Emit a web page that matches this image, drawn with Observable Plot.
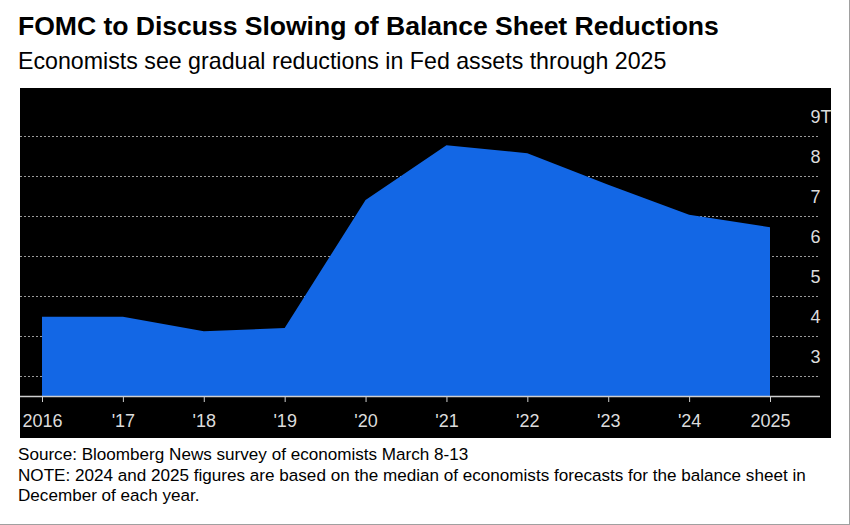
<!DOCTYPE html>
<html>
<head>
<meta charset="utf-8">
<script src="https://cdn.jsdelivr.net/npm/d3@7"></script>
<script src="https://cdn.jsdelivr.net/npm/@observablehq/plot@0.6"></script>
<style>
  html, body { margin: 0; padding: 0; background: #fff; }
  #page { position: relative; width: 850px; height: 525px; box-sizing: border-box; border: 1px solid #a0a0a0; border-top: none; border-left: none; overflow: hidden; font-family: "Liberation Sans", Arial, sans-serif; }
  #title { position: absolute; left: 18px; top: 11px; font-size: 26.6px; font-weight: bold; color: #000; letter-spacing: -0.05px; white-space: nowrap; }
  #subtitle { position: absolute; left: 18px; top: 48px; font-size: 23.2px; color: #000; white-space: nowrap; }
  #chart { position: absolute; left: 20px; top: 88px; }
  #chart svg { overflow: visible; }
  #caption { position: absolute; left: 18px; top: 445px; font-size: 17.1px; line-height: 20.5px; color: #000; white-space: nowrap; }
</style>
</head>
<body>
<div id="page">
  <div id="title">FOMC to Discuss Slowing of Balance Sheet Reductions</div>
  <div id="subtitle">Economists see gradual reductions in Fed assets through 2025</div>
  <div id="chart"></div>
  <div id="caption">Source: Bloomberg News survey of economists March 8-13<br>NOTE: 2024 and 2025 figures are based on the median of economists forecasts for the balance sheet in<br>December of each year.</div>
</div>
<script>
// Fed balance sheet (trillions of dollars)
const years = [2016, 2017, 2018, 2019, 2020, 2021, 2022, 2023, 2024, 2025];
const values = [4.48, 4.48, 4.12, 4.20, 7.40, 8.77, 8.57, 7.78, 7.03, 6.72];
const xTickLabels = ["2016", "'17", "'18", "'19", "'20", "'21", "'22", "'23", "'24", "2025"];
const yTicks = [3, 4, 5, 6, 7, 8, 9];
const yTickLabels = ["3", "4", "5", "6", "7", "8", "9T"];
const baseline = 2.5;
const yMax = 9;

const data = years.map((year, i) => ({year, value: values[i]}));
const xLabel = new Map(years.map((y, i) => [y, xTickLabels[i]]));
const yLabel = new Map(yTicks.map((t, i) => [t, yTickLabels[i]]));

const chart = Plot.plot({
  width: 811,
  height: 350,
  marginLeft: 0,
  marginRight: 11,
  marginTop: 48,
  marginBottom: 42,
  style: {background: "#000", color: "#dcdcdc", fontFamily: "'Liberation Sans', Arial, sans-serif", fontSize: "18px", overflow: "visible"},
  x: {domain: [years[0], years[years.length - 1]], range: [22, 750]},
  y: {domain: [baseline, yMax]},
  marks: [
    Plot.ruleY(yTicks, {stroke: "#9a9a9a", strokeDasharray: "2,2", strokeWidth: 1}),
    Plot.areaY(data, {x: "year", y1: baseline, y2: "value", fill: "#1367e5"}),
    Plot.ruleY([baseline], {stroke: "#cfcfcf", strokeWidth: 1.5}),
    Plot.axisX({ticks: years, tickFormat: d => xLabel.get(d), tickSize: 6, tickPadding: 12, stroke: "#cfcfcf", label: null}),
    Plot.axisY({anchor: "right", ticks: yTicks, tickFormat: d => yLabel.get(d), tickSize: 0, tickPadding: 0, dx: -10, dy: -19, textAnchor: "start", label: null})
  ]
});
document.getElementById("chart").appendChild(chart);
</script>
</body>
</html>
